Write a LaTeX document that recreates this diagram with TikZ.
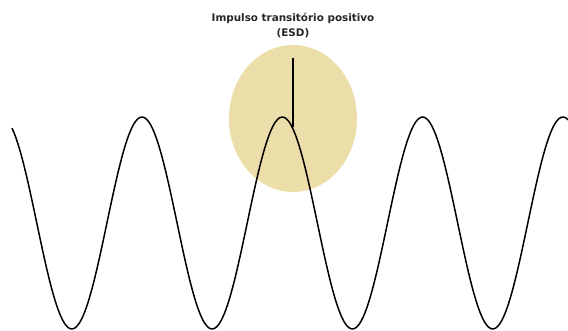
\documentclass[tikz,border=0pt]{standalone}
\usepackage{fontspec}
\setsansfont{DejaVu Sans}
\usetikzlibrary{shapes.geometric,positioning}
\definecolor{esdtan}{RGB}{236,222,168}

\begin{document}
\begin{tikzpicture}[
  x=1pt,
  y=-1pt,
  zone/.style={ellipse,fill=esdtan,draw=none,inner sep=0pt,minimum width=128pt,minimum height=147pt},
  wave/.style={line width=1.5pt,line join=round},
  spike/.style={line width=1.8pt},
  caption/.style={font=\sffamily\bfseries\fontsize{10.4}{12}\selectfont,align=center,inner sep=0pt,text=black!85}
]
\useasboundingbox (0,0) rectangle (568,331);

% impulse zone
\node[zone] (esd) at (293,118.5) {};

% signal
\draw[wave] plot[domain=12:568,samples=240,smooth] (\x,{223-106*cos(2.566*(\x-142))});

% impulse
\coordinate (ptop) at (293,58);
\coordinate (pbase) at (293,127.4);
\draw[spike] (ptop) -- (pbase);

% label
\node[caption] (lbl) at (293,25.5) {Impulso transitório positivo\\[3.5pt](ESD)};
\end{tikzpicture}
\end{document}
